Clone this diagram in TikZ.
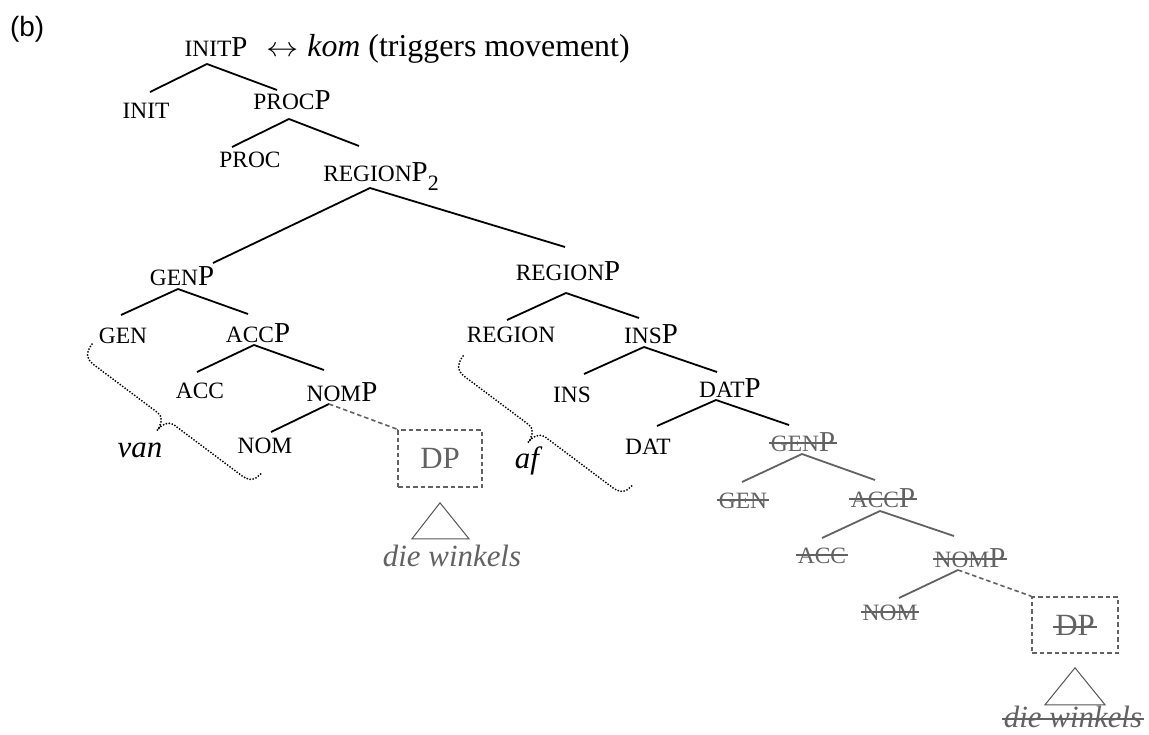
\documentclass[tikz,border=0pt]{standalone}
\usepackage{graphicx}
\usepackage{fontspec}
\setmainfont{Liberation Serif}
\newfontfamily\sansfam{Liberation Sans}

\definecolor{ghost}{HTML}{626262}
\definecolor{roofgray}{HTML}{555555}

% small-caps sized category label
\newcommand\smc[1]{{\fontsize{23.5}{25}\selectfont #1}}
% struck-through text (deleted copies)
\newcommand\strk[1]{\setbox0=\hbox{#1}\rlap{\hskip-2bp\rule[7.5bp]{\dimexpr\wd0+4bp\relax}{1.7bp}}\box0}
% dotted curly brace, 213bp long, along a fixed slope
\newcommand\dotbrace[1]{%
  \begin{scope}[shift={#1}, x={(0.8bp,-0.6bp)}, y={(-0.6bp,-0.8bp)}]
    \draw[bracedots] (0,0) .. controls (0,10) and (4,15.5) .. (14,15.5)
      -- (94,15.5) .. controls (100,15.5) and (104,22) .. (104,30)
      .. controls (104,22) and (108,15.5) .. (114,15.5)
      -- (199,15.5) .. controls (209,15.5) and (213,10) .. (213,0);
  \end{scope}}

\tikzset{
  lab/.style={anchor=base, inner sep=0pt, font=\fontsize{29}{30}\selectfont},
  ghostlab/.style={lab, text=ghost},
  itext/.style={anchor=base, inner sep=0pt, font=\fontsize{31}{32}\selectfont\itshape},
  branch/.style={line width=1.8bp, draw=black},
  ghostbranch/.style={line width=1.8bp, draw=ghost},
  traceline/.style={line width=1.6bp, draw=ghost, dash pattern=on 4.5bp off 3bp},
  dpbox/.style={draw=ghost, line width=1.6bp, dash pattern=on 4.5bp off 3bp,
    inner sep=0pt, font=\fontsize{31}{32}\selectfont, text=ghost},
  roof/.style={draw=roofgray, line width=1bp},
  bracedots/.style={line width=2bp, line cap=round, dash pattern=on 0bp off 3bp},
}

\begin{document}
\begin{tikzpicture}[x=1bp, y=-1bp]
\useasboundingbox (0,0) rectangle (1149,735);

% panel label and top annotation
\node[anchor=base west, inner sep=0pt, font=\sansfam\fontsize{28}{30}\selectfont] (panel) at (10,37) {(b)};
\node[lab] (initp) at (216,57) {\smc{INIT}P};
\node[anchor=base west, inner sep=0pt, font=\fontsize{32}{33}\selectfont] (ann) at (266,57) {\scalebox{1.3}[1.1]{$\leftrightarrow$}\hspace{1bp} \textit{kom} (triggers movement)};

% upper spine
\node[lab] (init) at (146,119) {\smc{INIT}};
\node[lab] (procp) at (292,110) {\smc{PROC}P};
\node[lab] (proc) at (250,168) {\smc{PROC}};
\node[lab] (regionp2) at (381,182) {\smc{REGION}P\raisebox{-9bp}{\fontsize{22}{22}\selectfont 2}};

% left branch
\node[lab] (genp) at (182,285) {\smc{GEN}P};
\node[lab] (gen) at (123,343) {\smc{GEN}};
\node[lab] (accp) at (258,342) {\smc{ACC}P};
\node[lab] (acc) at (200,398) {\smc{ACC}};
\node[lab] (nomp) at (342,401) {\smc{NOM}P};
\node[lab] (nom) at (265,453) {\smc{NOM}};
\node[dpbox, minimum width=84bp, minimum height=57bp] (dp1) at (440,458.5) {DP};
\node[itext, text=ghost] (dw1) at (452,566) {die winkels};
\node[itext] (van) at (140,457) {van};

% right branch
\node[lab] (regionp) at (568,280) {\smc{REGION}P};
\node[lab] (region) at (511,342) {\smc{REGION}};
\node[lab] (insp) at (651,343) {\smc{INS}P};
\node[lab] (ins) at (572,402) {\smc{INS}};
\node[lab] (datp) at (730,397) {\smc{DAT}P};
\node[lab] (dat) at (648,454) {\smc{DAT}};
\node[itext] (af) at (527,468) {af};

% deleted lower copy
\node[ghostlab] (genp2) at (803,451) {\strk{\smc{GEN}P}};
\node[ghostlab] (gen2) at (743,508) {\strk{\smc{GEN}}};
\node[ghostlab] (accp2) at (883,507) {\strk{\smc{ACC}P}};
\node[ghostlab] (acc2) at (822,563) {\strk{\smc{ACC}}};
\node[ghostlab] (nomp2) at (970,567) {\strk{\smc{NOM}P}};
\node[ghostlab] (nom2) at (890,620) {\strk{\smc{NOM}}};
\node[dpbox, minimum width=86bp, minimum height=56bp] (dp2) at (1075,625) {\strk{DP}};
\node[itext, text=ghost] (dw2) at (1073,727) {\strk{die winkels}};

% branches
\draw[branch] ([shift={(-9,7)}]initp.base) -- ([shift={(4,-27)}]init.base);
\draw[branch] ([shift={(-9,7)}]initp.base) -- ([shift={(-15,-20)}]procp.base);
\draw[branch] ([shift={(-3,9)}]procp.base) -- ([shift={(-18,-21)}]proc.base);
\draw[branch] ([shift={(-3,9)}]procp.base) -- ([shift={(-22,-36)}]regionp2.base);
\draw[branch] ([shift={(-11,6)}]regionp2.base) -- ([shift={(31,-22)}]genp.base);
\draw[branch] ([shift={(-11,6)}]regionp2.base) -- ([shift={(-3,-33)}]regionp.base);

\draw[branch] ([shift={(-4,4)}]genp.base) -- ([shift={(-2,-28)}]gen.base);
\draw[branch] ([shift={(-4,4)}]genp.base) -- ([shift={(-10,-28)}]accp.base);
\draw[branch] ([shift={(-4,3)}]accp.base) -- ([shift={(-3,-26)}]acc.base);
\draw[branch] ([shift={(-4,3)}]accp.base) -- ([shift={(-18,-31)}]nomp.base);
\draw[branch] ([shift={(-13,3)}]nomp.base) -- ([shift={(6,-21)}]nom.base);
\draw[traceline] ([shift={(-13,3)}]nomp.base) -- (dp1.north west);

\draw[branch] ([shift={(-2,13)}]regionp.base) -- ([shift={(-4,-22)}]region.base);
\draw[branch] ([shift={(-2,13)}]regionp.base) -- ([shift={(-12,-25)}]insp.base);
\draw[branch] ([shift={(-7,4)}]insp.base) -- ([shift={(12,-28)}]ins.base);
\draw[branch] ([shift={(-7,4)}]insp.base) -- ([shift={(-13,-25)}]datp.base);
\draw[branch] ([shift={(-14,3)}]datp.base) -- ([shift={(9,-28)}]dat.base);
\draw[branch] ([shift={(-14,3)}]datp.base) -- ([shift={(-14,-26)}]genp2.base);

\draw[ghostbranch] ([shift={(-1,3)}]genp2.base) -- ([shift={(-1,-26)}]gen2.base);
\draw[ghostbranch] ([shift={(-1,3)}]genp2.base) -- ([shift={(-8,-27)}]accp2.base);
\draw[ghostbranch] ([shift={(-3,4)}]accp2.base) -- ([shift={(0,-25)}]acc2.base);
\draw[ghostbranch] ([shift={(-3,4)}]accp2.base) -- ([shift={(-16,-31)}]nomp2.base);
\draw[ghostbranch] ([shift={(-12,3)}]nomp2.base) -- ([shift={(9,-22)}]nom2.base);
\draw[traceline] ([shift={(-12,3)}]nomp2.base) -- (dp2.north west);

% roofs over the DPs
\draw[roof] ([shift={(0,15)}]dp1.south) -- ([shift={(-28,51)}]dp1.south) -- ([shift={(29,51)}]dp1.south) -- cycle;
\draw[roof] ([shift={(0,14)}]dp2.south) -- ([shift={(-30,51)}]dp2.south) -- ([shift={(30,51)}]dp2.south) -- cycle;

% dotted braces spanning the spelled-out heads
\dotbrace{(92,344)}
\dotbrace{(463,356)}
\end{tikzpicture}
\end{document}
